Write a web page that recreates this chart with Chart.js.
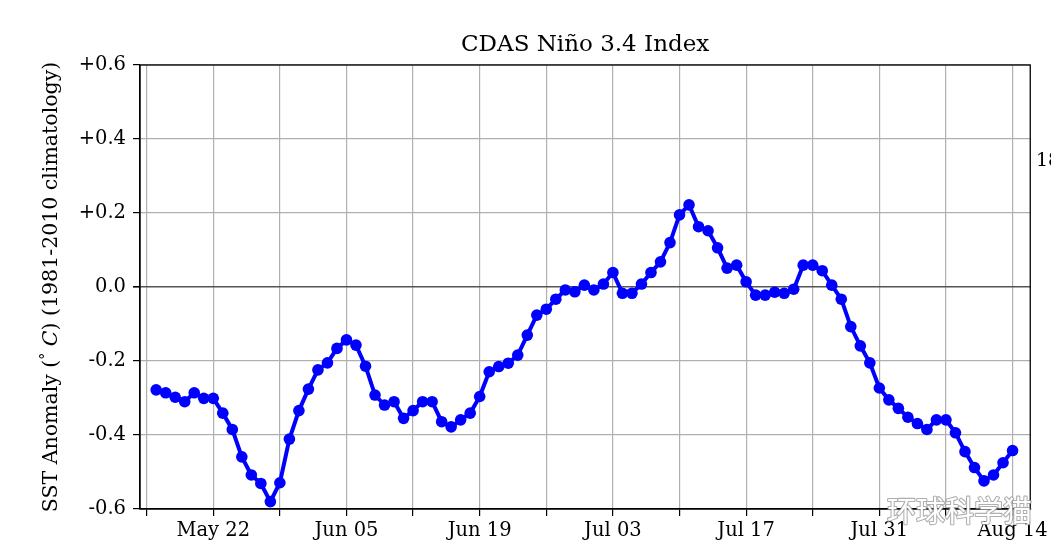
<!DOCTYPE html>
<html>
<head>
<meta charset="utf-8">
<script src="https://cdn.jsdelivr.net/npm/chart.js@4.4.1/dist/chart.umd.min.js"></script>
<style>
html,body{margin:0;padding:0;background:#fff;}
canvas{display:block;}
</style>
</head>
<body>
<canvas id="c" width="1051" height="545"></canvas>
<script>
// Day offsets are counted from May 16 (day 0) to Aug 14 (day 90)
const startDate = "May 16";
const anomalies = [
 -0.278,-0.286,-0.298,-0.310,-0.286,-0.301,-0.301,-0.341,-0.385,-0.459,
 -0.508,-0.531,-0.580,-0.529,-0.411,-0.334,-0.276,-0.224,-0.205,-0.166,
 -0.143,-0.157,-0.214,-0.292,-0.319,-0.310,-0.355,-0.334,-0.310,-0.310,
 -0.364,-0.378,-0.359,-0.341,-0.296,-0.229,-0.215,-0.206,-0.184,-0.130,
 -0.076,-0.060,-0.033,-0.008,-0.013,0.005,-0.008,0.008,0.039,-0.017,
 -0.017,0.008,0.039,0.068,0.120,0.195,0.222,0.163,0.152,0.106,
 0.051,0.059,0.014,-0.022,-0.022,-0.014,-0.017,-0.006,0.059,0.059,
 0.044,0.005,-0.033,-0.107,-0.159,-0.205,-0.273,-0.305,-0.328,-0.352,
 -0.369,-0.385,-0.359,-0.359,-0.394,-0.445,-0.488,-0.524,-0.508,-0.475,
 -0.442
];
const dayIndex = anomalies.map((_, i) => i);
const xTickDays = [-1, 6, 13, 20, 27, 34, 41, 48, 55, 62, 69, 76, 83, 90];
const xTickLabels = ["", "May 22", "", "Jun 05", "", "Jun 19", "", "Jul 03", "", "Jul 17", "", "Jul 31", "", "Aug 14"];
const yTicks = [-0.6, -0.4, -0.2, 0.0, 0.2, 0.4, 0.6];
const titleText = "CDAS Niño 3.4 Index";
const yLabelParts = ["SST Anomaly (", "°", " ", "C", ") (1981-2010 climatology)"];
const sideText = "18";
const watermarkText = "环球科学猫";

const SERIF = "'DejaVu Serif', 'Liberation Serif', serif";

const points = dayIndex.map((d, i) => ({x: d, y: anomalies[i]}));

const decor = {
  id: 'decor',
  afterDraw(chart) {
    const ctx = chart.ctx;
    const a = chart.chartArea;
    ctx.save();
    // frame (top & right spines)
    ctx.strokeStyle = '#000';
    ctx.lineWidth = 1.3;
    ctx.strokeRect(a.left, a.top, a.right - a.left, a.bottom - a.top);
    // title
    ctx.fillStyle = '#000';
    ctx.font = "23px " + SERIF;
    ctx.textAlign = 'center';
    ctx.textBaseline = 'middle';
    ctx.fillText(titleText, (a.left + a.right) / 2, 45);
    // y label (with superscript degree and italic C)
    const fN = "20.5px " + SERIF, fS = "14px " + SERIF, fI = "italic 20.5px " + SERIF;
    const fonts = [fN, fS, fN, fI, fN];
    const rise = [0, -7, 0, 0, 0];
    let total = 0;
    const widths = yLabelParts.map((p, k) => { ctx.font = fonts[k]; const w = ctx.measureText(p).width; total += w; return w; });
    ctx.save();
    ctx.translate(57, (a.top + a.bottom) / 2);
    ctx.rotate(-Math.PI / 2);
    ctx.textAlign = 'left';
    ctx.textBaseline = 'alphabetic';
    let px = -total / 2;
    yLabelParts.forEach((p, k) => { ctx.font = fonts[k]; ctx.fillText(p, px, rise[k]); px += widths[k]; });
    ctx.restore();
    // cut-off right text
    ctx.textAlign = 'left';
    ctx.textBaseline = 'middle';
    ctx.font = "19px " + SERIF;
    ctx.fillText(sideText, 1036, 161);
    // watermark
    ctx.font = "29px 'Noto Sans CJK SC'";
    ctx.textAlign = 'left';
    ctx.textBaseline = 'alphabetic';
    ctx.lineJoin = 'round';
    ctx.lineWidth = 2.2;
    ctx.strokeStyle = 'rgba(150,150,150,0.75)';
    ctx.fillStyle = '#ffffff';
    ctx.strokeText(watermarkText, 887, 522);
    ctx.fillText(watermarkText, 887, 522);
    ctx.restore();
  }
};

new Chart(document.getElementById('c'), {
  type: 'line',
  data: {
    datasets: [{
      data: points,
      borderColor: '#0000ff',
      backgroundColor: '#0000ff',
      borderWidth: 4,
      pointRadius: 5.8,
      pointHoverRadius: 5.8,
      pointBorderWidth: 0,
      tension: 0
    }]
  },
  options: {
    responsive: false,
    animation: false,
    devicePixelRatio: 1,
    layout: { padding: { left: 0, top: 65, right: 19, bottom: 0 } },
    plugins: { legend: { display: false }, tooltip: { enabled: false }, title: { display: false } },
    scales: {
      x: {
        type: 'linear',
        min: -1.7,
        max: 91.86,
        afterBuildTicks(scale) { scale.ticks = xTickDays.map(v => ({ value: v })); },
        afterFit(scale) { scale.height = 36; },
        ticks: {
          autoSkip: false,
          maxRotation: 0,
          padding: 3,
          color: '#000',
          font: { family: SERIF, size: 19.5 },
          callback(v) { const k = xTickDays.indexOf(v); return k >= 0 ? xTickLabels[k] : ''; }
        },
        grid: { color: '#b0b0b0', lineWidth: 1.2, tickLength: 7, tickColor: '#000', drawTicks: true },
        border: { display: true, color: '#000', width: 1.3 }
      },
      y: {
        min: -0.6,
        max: 0.6,
        afterBuildTicks(scale) { scale.ticks = yTicks.map(v => ({ value: v })); },
        afterFit(scale) { scale.width = 140; },
        ticks: {
          padding: 7,
          color: '#000',
          font: { family: SERIF, size: 19.5 },
          callback(v) { const r = Math.round(v * 10) / 10; return r > 0 ? '+' + r.toFixed(1) : r.toFixed(1); }
        },
        grid: {
          color: c => (c.tick && Math.abs(c.tick.value) < 1e-9) ? '#555555' : '#b0b0b0',
          lineWidth: c => (c.tick && Math.abs(c.tick.value) < 1e-9) ? 1.6 : 1.2,
          tickLength: 7, tickColor: '#000', drawTicks: true
        },
        border: { display: true, color: '#000', width: 1.3 }
      }
    }
  },
  plugins: [decor]
});
</script>
</body>
</html>
